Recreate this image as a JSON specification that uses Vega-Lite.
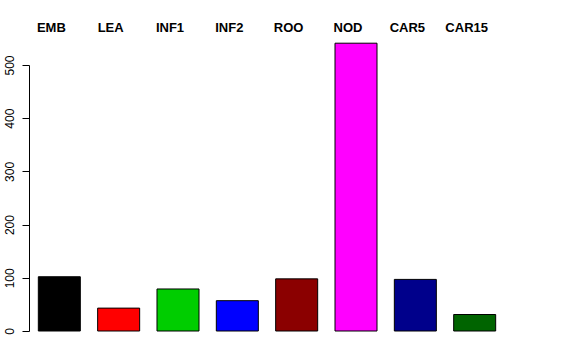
{
  "$schema": "https://vega.github.io/schema/vega-lite/v6.json",
  "width": 476,
  "height": 266,
  "autosize": {"type": "none"},
  "padding": {"left": 29, "top": 65, "right": 71, "bottom": 29},
  "background": "white",
  "config": {"view": {"stroke": null}},
  "data": {
    "values": [
      {"tissue": "EMB", "value": 102, "color": "#000000"},
      {"tissue": "LEA", "value": 43, "color": "#FF0000"},
      {"tissue": "INF1", "value": 79, "color": "#00CD00"},
      {"tissue": "INF2", "value": 57, "color": "#0000FF"},
      {"tissue": "ROO", "value": 98, "color": "#8B0000"},
      {"tissue": "NOD", "value": 541, "color": "#FF00FF"},
      {"tissue": "CAR5", "value": 97, "color": "#00008B"},
      {"tissue": "CAR15", "value": 31, "color": "#006400"}
    ]
  },
  "mark": {"type": "bar", "stroke": "#000000", "strokeWidth": 1, "clip": false},
  "encoding": {
    "x": {
      "field": "tissue",
      "type": "nominal",
      "sort": null,
      "scale": {"paddingInner": 0.292, "paddingOuter": 0.157},
      "axis": {
        "orient": "top",
        "title": null,
        "ticks": false,
        "domain": false,
        "labelAngle": 0,
        "labelFont": "Liberation Sans",
        "labelFontWeight": "bold",
        "labelFontSize": 13,
        "labelColor": "#000000",
        "labelPadding": 31,
        "labelOffset": -8
      }
    },
    "y": {
      "field": "value",
      "type": "quantitative",
      "scale": {"domain": [0, 500], "nice": false},
      "axis": {
        "title": null,
        "grid": false,
        "values": [0, 100, 200, 300, 400, 500],
        "tickSize": 7,
        "tickColor": "#000000",
        "domainColor": "#000000",
        "labelAngle": -90,
        "labelAlign": "center",
        "labelBaseline": "bottom",
        "labelFont": "Liberation Sans",
        "labelFontSize": 12,
        "labelColor": "#000000",
        "labelPadding": 6
      }
    },
    "fill": {"field": "color", "type": "nominal", "scale": null}
  }
}
